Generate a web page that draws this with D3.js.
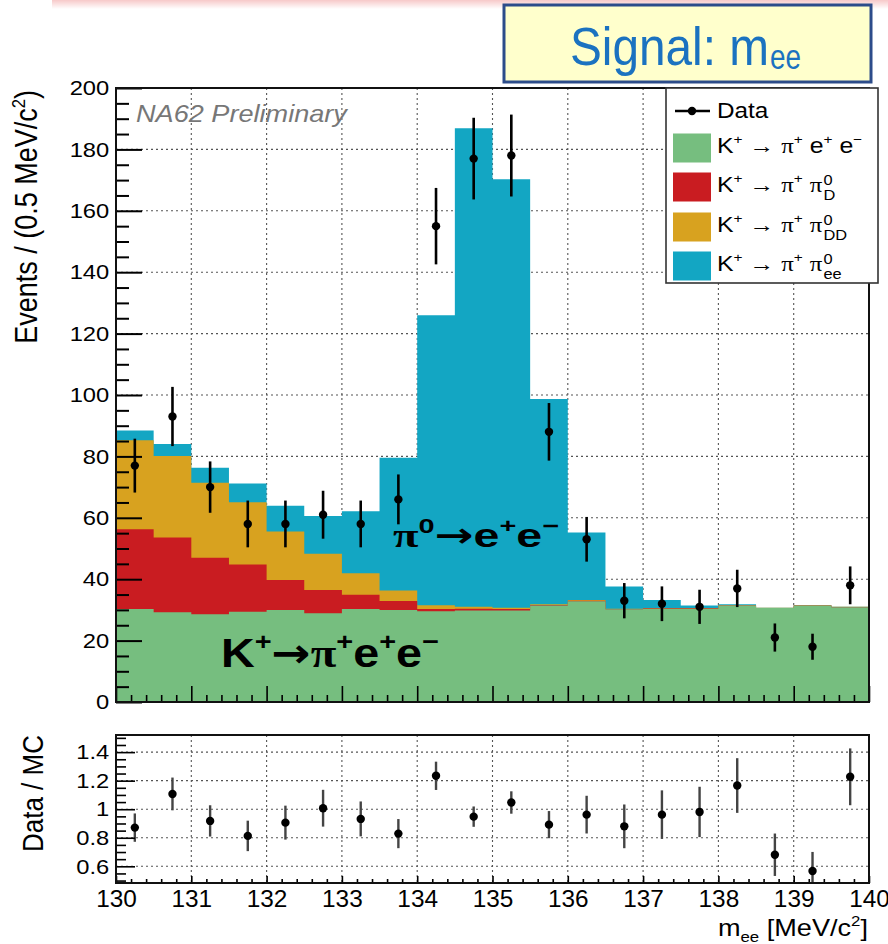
<!DOCTYPE html>
<html>
<head>
<meta charset="utf-8">
<script src="https://cdn.jsdelivr.net/npm/d3@7"></script>
<style>
  body { margin: 0; background: #fff; }
  svg { display: block; }
  text { font-family: "Liberation Sans", Arial, Helvetica, sans-serif; }
</style>
</head>
<body>
<div id="chart"></div>
<script>
//bin low edges (0.5 MeV/c2 bins from 130 to 140)
const binLow = [130, 130.5, 131, 131.5, 132, 132.5, 133, 133.5, 134, 134.5,
                135, 135.5, 136, 136.5, 137, 137.5, 138, 138.5, 139, 139.5];
const binWidth = 0.5;

//MC components (events per bin), stacked bottom to top
const kpiee = [30.3, 29.2, 28.6, 29.4, 30.0, 28.9, 30.3, 30.0, 29.6, 29.8,
               29.8, 31.4, 32.8, 30.2, 30.4, 30.4, 31.4, 30.6, 31.4, 30.9];
const pi0D  = [26.0, 24.4, 18.4, 15.4, 9.7, 7.6, 4.6, 2.9, 0.7, 0.6,
               0.5, 0.2, 0.2, 0.1, 0.1, 0.1, 0.05, 0.05, 0.05, 0.05];
const pi0DD = [29.0, 26.5, 24.4, 20.3, 15.8, 11.8, 7.0, 3.4, 1.2, 0.6,
               0.4, 0.2, 0.2, 0.1, 0.1, 0.1, 0.05, 0.05, 0.05, 0.05];
const pi0ee = [3.1, 3.9, 4.9, 6.1, 8.4, 12.3, 20.2, 43.3, 94.5, 155.9,
               139.6, 66.9, 22.0, 7.2, 2.6, 0.8, 0.3, 0, 0, 0];

//data counts and data/MC ratio
const dataCounts = [77, 93, 70, 58, 58, 61, 58, 66, 155, 177,
                    178, 88, 53, 33, 32, 31, 37, 21, 18, 38];
const ratioVals = [0.871, 1.107, 0.918, 0.813, 0.906, 1.007, 0.932, 0.829, 1.234, 0.948,
                   1.047, 0.892, 0.962, 0.880, 0.962, 0.981, 1.166, 0.681, 0.567, 1.227];

//axis ticks
const xMajor = [130, 131, 132, 133, 134, 135, 136, 137, 138, 139, 140];
const yMajor = [0, 20, 40, 60, 80, 100, 120, 140, 160, 180, 200];
const rMajor = [0.6, 0.8, 1, 1.2, 1.4];

const compKeys = ['kpiee', 'pi0D', 'pi0DD', 'pi0ee'];
const compColors = { kpiee: '#76be7f', pi0D: '#c91c21', pi0DD: '#d8a21f', pi0ee: '#13a6c3' };

const SX = 1.13; //horizontal stretch of the text in the picture

const W = 888, H = 944;
const frame = { left: 116, right: 869, top: 88, bottom: 702 };
const rframe = { top: 735, bottom: 883 };

const svg = d3.select('#chart').append('svg').attr('width', W).attr('height', H);

//faint pink band at the very top
const defs = svg.append('defs');
const grad = defs.append('linearGradient').attr('id', 'pink').attr('x1', 0).attr('y1', 0).attr('x2', 0).attr('y2', 1);
grad.append('stop').attr('offset', '0%').attr('stop-color', '#f7c9c9');
grad.append('stop').attr('offset', '100%').attr('stop-color', '#ffffff');
svg.append('rect').attr('x', 52).attr('y', 0).attr('width', W - 52).attr('height', 9).attr('fill', 'url(#pink)');

defs.append('clipPath').attr('id', 'clipMain').append('rect')
    .attr('x', frame.left).attr('y', frame.top)
    .attr('width', frame.right - frame.left).attr('height', frame.bottom - frame.top);
defs.append('clipPath').attr('id', 'clipRatio').append('rect')
    .attr('x', frame.left).attr('y', rframe.top)
    .attr('width', frame.right - frame.left).attr('height', rframe.bottom - rframe.top);

const x = d3.scaleLinear().domain([130, 140]).range([frame.left, frame.right]);
const y = d3.scaleLinear().domain([0, 200]).range([frame.bottom, frame.top]);
const yr = d3.scaleLinear().domain([0.483, 1.52]).range([rframe.bottom, rframe.top]);

//helper: stretched text at (px,py)
function stext(parent, px, py, size, anchor) {
    return parent.append('text')
        .attr('transform', `translate(${px},${py}) scale(${SX},1)`)
        .attr('font-size', size)
        .attr('text-anchor', anchor || 'start');
}

//helper: fill a text with parts, some of them raised (sup) or lowered (sub)
function richText(t, size, parts, opts) {
    opts = opts || {};
    let shift = 0;
    parts.forEach(p => {
        const want = p.sup ? -size * (opts.supRise || 0.4) : (p.sub ? size * 0.25 : 0);
        const ts = t.append('tspan').attr('dy', want - shift).text(p.t);
        if (p.sup || p.sub) ts.attr('font-size', size * (opts.supScale || 0.62));
        if (p.serif) ts.attr('font-family', '"Liberation Serif", serif');
        if (p.font) ts.attr('font-family', p.font);
        shift = want;
    });
    return t;
}

//---------- main panel grid ----------
const gridMain = svg.append('g').attr('stroke', '#555').attr('stroke-width', 1.1)
    .attr('stroke-dasharray', '2,3');
xMajor.slice(1, -1).forEach(v => {
    gridMain.append('line').attr('x1', x(v)).attr('x2', x(v)).attr('y1', frame.top).attr('y2', frame.bottom);
});
yMajor.slice(1, -1).forEach(v => {
    gridMain.append('line').attr('x1', frame.left).attr('x2', frame.right).attr('y1', y(v)).attr('y2', y(v));
});

//NA62 label
stext(svg, 136, 122, 24).attr('font-style', 'italic').attr('fill', '#777').text('NA62 Preliminary');

//---------- stacked histogram ----------
const rows = binLow.map((lo, i) => ({ lo: lo, kpiee: kpiee[i], pi0D: pi0D[i], pi0DD: pi0DD[i], pi0ee: pi0ee[i] }));
rows.push(Object.assign({}, rows[rows.length - 1], { lo: binLow[binLow.length - 1] + binWidth })); //closing step
const stacked = d3.stack().keys(compKeys)(rows);

const area = d3.area()
    .curve(d3.curveStepAfter)
    .x(d => x(d.data.lo))
    .y0(y(0))
    .y1(d => y(d[1]));

const histG = svg.append('g').attr('clip-path', 'url(#clipMain)');
//draw cumulative areas from the top layer down to avoid seams
stacked.slice().reverse().forEach(s => {
    histG.append('path').attr('d', area(s)).attr('fill', compColors[s.key]);
});

//---------- data points ----------
const dataG = svg.append('g').attr('clip-path', 'url(#clipMain)');
dataCounts.forEach((n, i) => {
    const cx = x(binLow[i] + binWidth / 2);
    const err = Math.sqrt(n);
    dataG.append('line').attr('x1', cx).attr('x2', cx)
        .attr('y1', y(n - err)).attr('y2', y(n + err))
        .attr('stroke', '#000').attr('stroke-width', 2.6);
    dataG.append('circle').attr('cx', cx).attr('cy', y(n)).attr('r', 4.2).attr('fill', '#000');
});

//---------- main panel axes ----------
const yAxisG = svg.append('g').attr('transform', `translate(${frame.left},0)`);
yAxisG.call(d3.axisLeft(y).tickValues(yMajor).tickSizeInner(-26).tickSizeOuter(0).tickPadding(6));
yAxisG.select('.domain').remove();
yAxisG.selectAll('.tick line').attr('stroke', '#000').attr('stroke-width', 2);
yAxisG.selectAll('.tick text').attr('font-size', 21).attr('fill', '#000')
    .attr('font-family', '"Liberation Sans", Arial, sans-serif')
    .attr('transform', `scale(${SX},1)`);

const yMinor = d3.range(0, 201, 5).filter(v => v % 20 !== 0);
const yMinorG = svg.append('g').attr('transform', `translate(${frame.left},0)`);
yMinorG.call(d3.axisLeft(y).tickValues(yMinor).tickSizeInner(-13).tickSizeOuter(0).tickFormat(''));
yMinorG.select('.domain').remove();
yMinorG.selectAll('.tick line').attr('stroke', '#000').attr('stroke-width', 2);

const xMinor = d3.range(0, 51).map(k => 130 + k * 0.2).filter(v => Math.abs(v - Math.round(v)) > 1e-6);
const xAxisMain = svg.append('g').attr('transform', `translate(0,${frame.bottom})`);
xAxisMain.call(d3.axisBottom(x).tickValues(xMajor).tickSizeInner(-16).tickSizeOuter(0).tickFormat(''));
xAxisMain.select('.domain').remove();
xAxisMain.selectAll('.tick line').attr('stroke', '#000').attr('stroke-width', 1.6);
const xMinorMain = svg.append('g').attr('transform', `translate(0,${frame.bottom})`);
xMinorMain.call(d3.axisBottom(x).tickValues(xMinor).tickSizeInner(-7).tickSizeOuter(0).tickFormat(''));
xMinorMain.select('.domain').remove();
xMinorMain.selectAll('.tick line').attr('stroke', '#000').attr('stroke-width', 1.6);

svg.append('rect').attr('x', frame.left).attr('y', frame.top)
    .attr('width', frame.right - frame.left).attr('height', frame.bottom - frame.top)
    .attr('fill', 'none').attr('stroke', '#111').attr('stroke-width', 2);

//y axis title
const yTitle = svg.append('text')
    .attr('transform', `translate(37,90) scale(${SX},1) rotate(-90)`)
    .attr('text-anchor', 'end').attr('font-size', 27);
richText(yTitle, 27, [{ t: 'Events / (0.5 MeV/c' }, { t: '2', sup: true }, { t: ')' }]);

//annotations on the histogram
function annot(px, py, size, len, parts) {
    const t = svg.append('text').attr('x', px).attr('y', py)
        .attr('font-size', size).attr('font-weight', 'bold').attr('fill', '#000')
        .attr('font-family', '"Open Sans", "Noto Sans", sans-serif')
        .attr('textLength', len).attr('lengthAdjust', 'spacingAndGlyphs');
    richText(t, size, parts, { supRise: 0.42 });
}
const arrowFont = '"DejaVu Sans", sans-serif';
annot(393, 547, 34, 166, [{ t: 'π', serif: true }, { t: '0', sup: true }, { t: '→', font: arrowFont }, { t: 'e' },
    { t: '+', sup: true }, { t: 'e' }, { t: '−', sup: true }]);
annot(221, 667, 40, 218, [{ t: 'K' }, { t: '+', sup: true }, { t: '→', font: arrowFont }, { t: 'π', serif: true },
    { t: '+', sup: true }, { t: 'e' }, { t: '+', sup: true }, { t: 'e' }, { t: '−', sup: true }]);

//---------- legend ----------
const leg = svg.append('g');
leg.append('rect').attr('x', 666).attr('y', 88).attr('width', 212).attr('height', 195)
    .attr('fill', '#fff').attr('stroke', '#333').attr('stroke-width', 1.6);
leg.append('line').attr('x1', 675).attr('x2', 710).attr('y1', 111).attr('y2', 111)
    .attr('stroke', '#000').attr('stroke-width', 2.4);
leg.append('circle').attr('cx', 692).attr('cy', 111).attr('r', 4.2).attr('fill', '#000');
stext(leg, 717, 118, 21.5).text('Data');

const legRows = [
    { key: 'kpiee', y: 148 },
    { key: 'pi0D', y: 187, sub: 'D' },
    { key: 'pi0DD', y: 227, sub: 'DD' },
    { key: 'pi0ee', y: 266, sub: 'ee' }
];
const legSize = 22;
legRows.forEach(r => {
    leg.append('rect').attr('x', 673).attr('y', r.y - 14.5).attr('width', 38).attr('height', 29)
        .attr('fill', compColors[r.key]);
    const g = leg.append('g').attr('transform', `translate(717,${r.y + 5}) scale(${SX},1)`);
    const t = g.append('text').attr('font-size', legSize);
    const base = [{ t: 'K' }, { t: '+', sup: true }, { t: ' → ' }, { t: 'π', serif: true }, { t: '+', sup: true }];
    if (r.key === 'kpiee') {
        richText(t, legSize, base.concat([{ t: ' e' }, { t: '+', sup: true }, { t: ' e' }, { t: '−', sup: true }]));
    } else {
        richText(t, legSize, base.concat([{ t: ' ' }, { t: 'π', serif: true }]));
        const len = t.node().getComputedTextLength();
        g.append('text').attr('x', len + 1).attr('y', -7.5).attr('font-size', 14.5).text('0');
        g.append('text').attr('x', len + 1).attr('y', 7.5).attr('font-size', 14.5).text(r.sub);
    }
});

//---------- ratio panel ----------
const gridRatio = svg.append('g').attr('stroke', '#555').attr('stroke-width', 1.1)
    .attr('stroke-dasharray', '2,3');
xMajor.slice(1, -1).forEach(v => {
    gridRatio.append('line').attr('x1', x(v)).attr('x2', x(v)).attr('y1', rframe.top).attr('y2', rframe.bottom);
});
rMajor.forEach(v => {
    gridRatio.append('line').attr('x1', frame.left).attr('x2', frame.right).attr('y1', yr(v)).attr('y2', yr(v));
});

const ratioG = svg.append('g').attr('clip-path', 'url(#clipRatio)');
ratioVals.forEach((r, i) => {
    const cx = x(binLow[i] + binWidth / 2);
    const err = r / Math.sqrt(dataCounts[i]);
    ratioG.append('line').attr('x1', cx).attr('x2', cx)
        .attr('y1', yr(r - err)).attr('y2', yr(r + err))
        .attr('stroke', '#444').attr('stroke-width', 2.4);
    ratioG.append('circle').attr('cx', cx).attr('cy', yr(r)).attr('r', 4.2).attr('fill', '#000');
});

const rAxisG = svg.append('g').attr('transform', `translate(${frame.left},0)`);
rAxisG.call(d3.axisLeft(yr).tickValues(rMajor).tickSizeInner(-19).tickSizeOuter(0).tickPadding(6)
    .tickFormat(d3.format('~g')));
rAxisG.select('.domain').remove();
rAxisG.selectAll('.tick line').attr('stroke', '#000').attr('stroke-width', 1.6);
rAxisG.selectAll('.tick text').attr('font-size', 21).attr('fill', '#000')
    .attr('font-family', '"Liberation Sans", Arial, sans-serif')
    .attr('transform', `scale(${SX},1)`);

const rMinor = d3.range(10, 31).map(k => k * 0.05)
    .filter(v => Math.abs(v * 5 - Math.round(v * 5)) > 1e-6);
const rMinorG = svg.append('g').attr('transform', `translate(${frame.left},0)`);
rMinorG.call(d3.axisLeft(yr).tickValues(rMinor).tickSizeInner(-10).tickSizeOuter(0).tickFormat(''));
rMinorG.select('.domain').remove();
rMinorG.selectAll('.tick line').attr('stroke', '#000').attr('stroke-width', 1.6);

const xAxisR = svg.append('g').attr('transform', `translate(0,${rframe.bottom})`);
xAxisR.call(d3.axisBottom(x).tickValues(xMajor).tickSizeInner(-7).tickSizeOuter(0).tickPadding(8));
xAxisR.select('.domain').remove();
xAxisR.selectAll('.tick line').attr('stroke', '#000').attr('stroke-width', 1.6);
xAxisR.selectAll('.tick text').attr('font-size', 23).attr('fill', '#000')
    .attr('font-family', '"Liberation Sans", Arial, sans-serif')
    .attr('transform', 'scale(1.06,1)');
const xMinorR = svg.append('g').attr('transform', `translate(0,${rframe.bottom})`);
xMinorR.call(d3.axisBottom(x).tickValues(xMinor).tickSizeInner(-4).tickSizeOuter(0).tickFormat(''));
xMinorR.select('.domain').remove();
xMinorR.selectAll('.tick line').attr('stroke', '#000').attr('stroke-width', 1.6);

svg.append('rect').attr('x', frame.left).attr('y', rframe.top)
    .attr('width', frame.right - frame.left).attr('height', rframe.bottom - rframe.top)
    .attr('fill', 'none').attr('stroke', '#111').attr('stroke-width', 2);

//ratio y title
svg.append('text')
    .attr('transform', `translate(43,735) scale(${SX},1) rotate(-90)`)
    .attr('text-anchor', 'end').attr('font-size', 26).text('Data / MC');

//x axis title
const xTitle = stext(svg, 868, 936, 24, 'end');
richText(xTitle, 24, [{ t: 'm' }, { t: 'ee', sub: true }, { t: ' [MeV/c' }, { t: '2', sup: true }, { t: ']' }]);

//---------- "Signal: mee" box ----------
svg.append('rect').attr('x', 504).attr('y', 5).attr('width', 367).attr('height', 77)
    .attr('fill', '#ffffcc').attr('stroke', '#2c4c8a').attr('stroke-width', 3);
const sigFont = '"Liberation Sans Narrow", "Arial Narrow", "DejaVu Sans Condensed", sans-serif';
svg.append('text').attr('x', 570).attr('y', 65).attr('font-size', 54)
    .attr('font-family', sigFont).attr('fill', '#1b72c0')
    .attr('textLength', 199).attr('lengthAdjust', 'spacingAndGlyphs').text('Signal: m');
svg.append('text').attr('x', 770).attr('y', 69).attr('font-size', 35)
    .attr('font-family', sigFont).attr('fill', '#1b72c0')
    .attr('textLength', 31).attr('lengthAdjust', 'spacingAndGlyphs').text('ee');
</script>
</body>
</html>
